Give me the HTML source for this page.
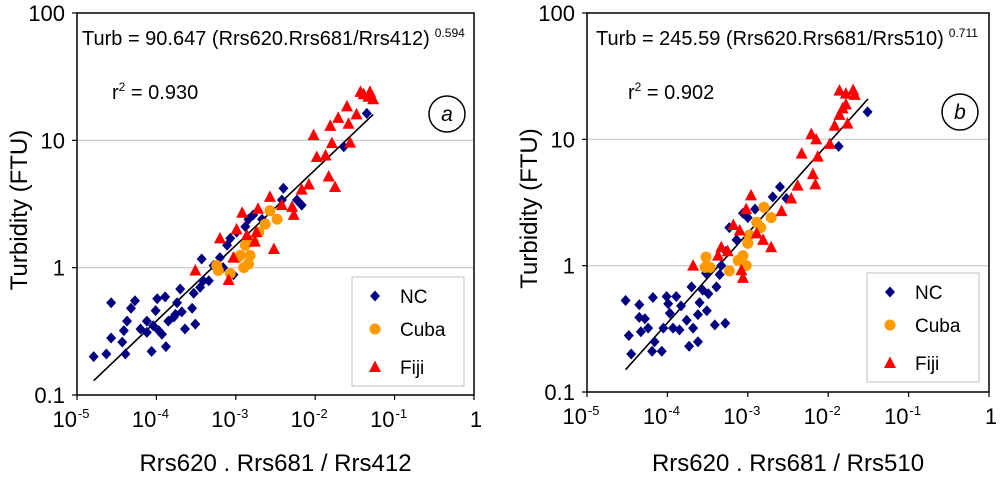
<!DOCTYPE html>
<html><head><meta charset="utf-8"><style>
body{margin:0;background:#fff;width:1000px;height:478px;overflow:hidden}
svg{display:block;font-family:"Liberation Sans",Arial,sans-serif}
</style></head><body>
<svg id="chart" width="1000" height="478" viewBox="0 0 1000 478"></svg>
<script>
// ---- Panel a data (log10 of ratio, turbidity FTU)
const aNcLogX=[-4.79,-4.63,-4.57,-4.57,-4.43,-4.39,-4.37,-4.41,-4.32,-4.27,-4.20,-4.12,-4.06,-4.01,-3.99,-3.97,-3.93,-3.89,-3.88,-3.85,-3.78,-3.74,-3.68,-3.70,-3.64,-3.55,-3.51,-3.53,-3.45,-3.43,-3.41,-3.34,-3.28,-3.20,-3.16,-3.11,-3.07,-3.03,-2.99,-2.88,-2.84,-2.78,-2.67,-2.40,-2.42,-2.23,-2.17,-1.64,-1.35,-4.12,-4.04,-3.76];
const aNcY=[0.20,0.21,0.53,0.28,0.26,0.21,0.38,0.32,0.48,0.55,0.33,0.31,0.22,0.46,0.57,0.32,0.30,0.59,0.24,0.38,0.41,0.53,0.45,0.68,0.33,0.48,0.36,0.63,0.70,1.17,0.79,0.79,1.04,1.2,1.0,1.5,1.7,0.88,1.9,2.1,2.4,2.6,2.4,4.2,3.4,3.4,3.1,8.9,16.3,0.38,0.35,0.43];
const aCubaLogX=[-3.24,-3.22,-3.07,-2.94,-2.90,-2.84,-2.88,-2.78,-2.71,-2.63,-2.57,-2.48,-2.98,-2.82];
const aCubaY=[1.04,0.95,0.9,1.25,1.0,1.07,1.5,1.6,1.9,2.2,2.8,2.4,1.2,1.25];
const aFijiLogX=[-3.51,-3.20,-3.09,-3.03,-2.99,-2.92,-2.86,-2.76,-2.74,-2.72,-2.57,-2.52,-2.42,-2.29,-2.27,-2.17,-2.08,-2.02,-1.98,-1.87,-1.83,-1.81,-1.79,-1.75,-1.71,-1.60,-1.58,-1.56,-1.48,-1.43,-1.39,-1.33,-1.31,-1.27];
const aFijiY=[0.95,1.7,0.8,1.2,2.0,2.7,1.8,1.6,1.9,2.9,3.6,1.4,3.1,3.0,2.6,4.1,4.5,11,7.4,7.6,5.2,13,9.5,4.3,15,18.5,13.5,9.6,16,24,23,22,24,21];
const aFit=[90.647,0.594,-4.79,-1.27];
// ---- Panel b data
const bNcLogX=[-4.52,-4.48,-4.45,-4.35,-4.35,-4.33,-4.28,-4.24,-4.18,-4.19,-4.16,-4.07,-4.05,-4.01,-3.99,-3.97,-3.93,-3.89,-3.85,-3.83,-3.76,-3.73,-3.70,-3.68,-3.62,-3.62,-3.60,-3.56,-3.52,-3.51,-3.49,-3.41,-3.39,-3.35,-3.33,-3.28,-3.27,-3.23,-3.14,-3.06,-3.00,-2.91,-2.69,-2.60,-2.52,-1.87,-1.51];
const bNcY=[0.53,0.28,0.20,0.49,0.39,0.30,0.38,0.32,0.56,0.21,0.25,0.21,0.32,0.57,0.50,0.42,0.32,0.57,0.31,0.48,0.37,0.23,0.68,0.32,0.25,0.41,0.51,0.64,0.87,0.44,0.60,0.34,0.68,0.85,1.0,0.35,1.3,2.0,1.6,2.6,2.4,2.8,3.5,4.2,3.4,8.8,16.5];
const bCubaLogX=[-3.52,-3.53,-3.47,-3.23,-3.12,-3.06,-3.02,-3.00,-2.98,-2.89,-2.84,-2.80,-2.71];
const bCubaY=[1.17,0.97,0.97,0.91,1.1,1.2,1.0,1.5,1.75,2.2,2.0,2.9,2.4];
const bFijiLogX=[-3.68,-3.37,-3.33,-3.25,-3.18,-3.10,-3.08,-3.06,-3.02,-2.96,-2.89,-2.81,-2.71,-2.58,-2.46,-2.38,-2.33,-2.21,-2.19,-2.16,-2.15,-2.13,-1.98,-1.92,-1.86,-1.82,-1.78,-1.76,-1.86,-1.78,-1.69,-1.67];
const bFijiY=[1.0,1.2,1.4,1.3,2.1,1.9,0.92,0.80,2.8,3.6,1.8,1.6,1.4,2.7,3.4,4.3,7.7,11,5.3,4.4,10,7.3,9.2,12.8,15.6,17.6,18.9,13.3,24.3,23,24.5,22.5];
const bFit=[245.59,0.711,-4.52,-1.505];
const xTickExp=["-5","-4","-3","-2","-1",""];
const yTickLabels=["100","10","1","0.1"];

const NS="http://www.w3.org/2000/svg";
const svg=document.getElementById('chart');
function el(tag,attrs,parent,text){const e=document.createElementNS(NS,tag);for(const k in attrs)e.setAttribute(k,attrs[k]);if(text!==undefined)e.textContent=text;(parent||svg).appendChild(e);return e;}

function panel(p){
  const g=el('g',{});
  
  
  const xs=lx=>p.x0+(lx+5)*(p.x1-p.x0)/5;
  const ys=v=>p.y0+(2-Math.log10(v))*(p.y1-p.y0)/3;
  [10,1].forEach(v=>{const l=el('line',{x1:p.x0,x2:p.x1,y1:ys(v),y2:ys(v),stroke:'#c8c8c8','stroke-width':1.2},g);
    });
  const fr=el('rect',{x:p.x0,y:p.y0,width:p.x1-p.x0,height:p.y1-p.y0,fill:'none',stroke:'#000','stroke-width':1.5},g);
  
  yTickLabels.forEach((t,i)=>{const v=Math.pow(10,2-i);const y=ys(v);
    el('line',{x1:p.x0-5,x2:p.x0,y1:y,y2:y,stroke:'#000','stroke-width':1.2},g);
    const tx=el('text',{x:p.x0-12,y:y+8,'text-anchor':'end','font-size':22},g,t);
    });
  xTickExp.forEach((e,i)=>{const x=xs(i-5);
    el('line',{x1:x,x2:x,y1:p.y1,y2:p.y1+5,stroke:'#000','stroke-width':1.2},g);
    const tx=el('text',{x:e?x-6:x+2,y:p.y1+32,'text-anchor':'middle','font-size':22},g,e?'10':'1');
    
    if(e){el('tspan',{dx:1,dy:-9,'font-size':13},tx,e);}});
  const xt=el('text',{x:(p.x0+p.x1)/2,y:471,'text-anchor':'middle','font-size':24},g,p.xTitle);
  
  const yt=el('text',{x:0,y:0,'text-anchor':'middle','font-size':24,transform:`translate(${p.yTitleX},${(p.y0+p.y1)/2+6}) rotate(-90)`},g,'Turbidity (FTU)');
  
  const [a,b,lo,hi]=p.fit;const f=lx=>a*Math.pow(10,b*lx);
  const fl=el('line',{x1:xs(lo),y1:ys(f(lo)),x2:xs(hi),y2:ys(f(hi)),stroke:'#000','stroke-width':1.6},g);
  
  function diamond(x,y,c,gg){return el('polygon',{points:`${x},${y-5.5} ${x+5},${y} ${x},${y+5.5} ${x-5},${y}`,fill:c},gg);}
  function circ(x,y,c,gg){return el('circle',{cx:x,cy:y,r:5.5,fill:c},gg);}
  function tri(x,y,c,gg){return el('polygon',{points:`${x},${y-6.5} ${x+6},${y+5} ${x-6},${y+5}`,fill:c},gg);}
  const series=[['nc',p.nc,'#000080',diamond],['cuba',p.cuba,'#ff9900',circ],['fiji',p.fiji,'#ff0000',tri]];
  series.forEach(([n,d,c,fn])=>{d[0].forEach((lx,i)=>{const m=fn(xs(lx),ys(d[1][i]),c,g);
    });});
  const eq=el('text',{x:p.eqX,y:p.y0+32,'font-size':20},g,p.eq);
  
  el('tspan',{dx:5,dy:-8,'font-size':12},eq,p.exp);
  const r2=el('text',{x:p.r2X,y:p.y0+86,'font-size':20},g,'r');
  
  el('tspan',{dy:-8,'font-size':12},r2,'2');
  el('tspan',{dy:8},r2,' = '+p.r2);
  const cg=el('g',{},g);
  el('circle',{cx:p.cx,cy:p.cy,r:18,fill:'none',stroke:'#000','stroke-width':1.5},cg);
  el('text',{x:p.cx,y:p.cy+7,'text-anchor':'middle','font-size':21,'font-style':'italic'},cg,p.id);
  const lg=el('g',{},g);
  el('rect',{x:p.lx,y:p.ly,width:112,height:109,fill:'#fff',stroke:'#c0c0c0','stroke-width':1},lg);
  const names=['NC','Cuba','Fiji'],off=[19,52,90];
  series.forEach(([n,d,c,fn],i)=>{const eg=el('g',{},lg);
    
    fn(p.lx+23,p.ly+off[i],c,eg);
    el('text',{x:p.lx+48,y:p.ly+off[i]+7,'font-size':19},eg,names[i]);});
}
panel({id:'a',x0:77,x1:474,y0:13,y1:395,nc:[aNcLogX,aNcY],cuba:[aCubaLogX,aCubaY],fiji:[aFijiLogX,aFijiY],fit:aFit,
  xTitle:'Rrs620 . Rrs681 / Rrs412',yTitleX:27,eq:'Turb = 90.647 (Rrs620.Rrs681/Rrs412)',exp:'0.594',eqX:82,r2X:112,r2:'0.930',cx:447,cy:114,lx:352,ly:277});
panel({id:'b',x0:587,x1:989,y0:13,y1:392,nc:[bNcLogX,bNcY],cuba:[bCubaLogX,bCubaY],fiji:[bFijiLogX,bFijiY],fit:bFit,
  xTitle:'Rrs620 . Rrs681 / Rrs510',yTitleX:537,eq:'Turb = 245.59 (Rrs620.Rrs681/Rrs510)',exp:'0.711',eqX:596,r2X:628,r2:'0.902',cx:960,cy:112,lx:867,ly:273});
</script>
</body></html>
